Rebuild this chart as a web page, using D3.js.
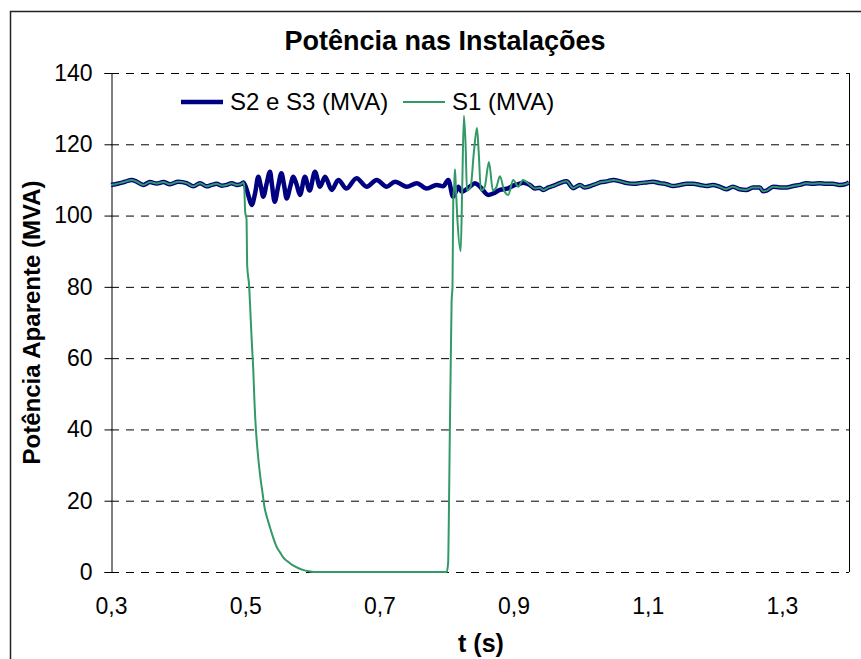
<!DOCTYPE html>
<html lang="pt">
<head>
    <meta charset="UTF-8">
    <title>Potência nas Instalações</title>
    <script src="https://d3js.org/d3.v7.min.js"></script>
    <style>
        body { margin: 0; background: #fff; }
        text { font-family: "Liberation Sans", Arial, sans-serif; fill: #000; }
    </style>
</head>
<body>
    <svg id="chart"></svg>

    <script>
        // S2 e S3 (MVA): tempo (s) e potência aparente
        const s2Time = [
            0.300, 0.3065, 0.3134, 0.3209, 0.3308, 0.3383, 0.3482, 0.3581, 0.3681, 0.378,
            0.3879, 0.4003, 0.4128, 0.4227, 0.4326, 0.4426, 0.450, 0.4575, 0.465, 0.4724,
            0.4799, 0.4873, 0.4935, 0.4972, 0.501, 0.505, 0.5097, 0.515, 0.5195, 0.523,
            0.527, 0.532, 0.537, 0.540, 0.544, 0.549, 0.554, 0.558, 0.5618, 0.567,
            0.5717, 0.577, 0.5817, 0.589, 0.596, 0.604, 0.6115, 0.619, 0.629, 0.6388,
            0.651, 0.666, 0.681, 0.696, 0.711, 0.7233, 0.7407, 0.7556, 0.7705, 0.7854,
            0.795, 0.8027, 0.810, 0.8176, 0.8226, 0.835, 0.8425, 0.850, 0.8623, 0.8697,
            0.8797, 0.892, 0.8995, 0.907, 0.9145, 0.9244, 0.932, 0.939, 0.944, 0.952,
            0.959, 0.969, 0.979, 0.989, 0.999, 1.006, 1.019, 1.031, 1.039, 1.049,
            1.059, 1.069, 1.079, 1.088, 1.098, 1.108, 1.118, 1.128, 1.138, 1.148,
            1.158, 1.168, 1.178, 1.188, 1.197, 1.207, 1.217, 1.227, 1.237, 1.247,
            1.257, 1.267, 1.272, 1.277, 1.287, 1.297, 1.307, 1.317, 1.327, 1.336,
            1.346, 1.356, 1.366, 1.376, 1.386, 1.396, 1.400
        ];
        const s2Value = [
            108.6, 108.8, 109.1, 109.5, 110.0, 109.5, 108.6, 109.4, 109.0, 109.4,
            108.8, 109.5, 109.1, 108.2, 109.1, 108.2, 108.6, 108.9, 108.4, 108.6,
            109.1, 108.6, 108.8, 109.3, 108.0, 105.5, 103.0, 106.5, 110.9, 108.5,
            105.3, 109.0, 112.3, 108.5, 103.9, 108.0, 111.9, 108.5, 104.8, 108.0,
            110.9, 108.5, 105.8, 110.9, 107.0, 112.3, 108.1, 110.9, 107.2, 110.0,
            107.6, 110.5, 108.1, 110.0, 108.1, 109.5, 108.1, 109.1, 107.6, 108.6,
            108.2, 110.0, 105.3, 108.1, 106.7, 108.1, 109.1, 108.1, 105.8, 106.2,
            107.2, 107.6, 108.4, 108.8, 109.2, 108.6, 107.6, 107.8, 107.2, 107.9,
            108.3, 109.1, 109.6, 107.7, 108.6, 107.9, 108.6, 109.4, 109.6, 110.0,
            109.6, 109.1, 108.9, 109.1, 109.3, 109.5, 109.1, 108.8, 108.3, 108.6,
            108.9, 108.9, 108.6, 108.3, 108.6, 108.1, 107.4, 108.1, 107.4, 107.2,
            107.9, 107.9, 106.8, 107.0, 108.1, 107.9, 107.9, 108.3, 108.6, 109.1,
            108.9, 109.1, 108.9, 108.9, 108.6, 108.9, 109.3
        ];

        // S1 (MVA): trecho em que difere de S2/S3 (abertura e religamento)
        const s1Time = [
            0.4985, 0.500, 0.502, 0.503, 0.506, 0.508, 0.510, 0.512, 0.514, 0.516,
            0.518, 0.520, 0.523, 0.526, 0.529, 0.533, 0.537, 0.542, 0.547, 0.552,
            0.557, 0.563, 0.570, 0.578, 0.586, 0.595, 0.602, 0.8003, 0.8025, 0.8035,
            0.805, 0.8065, 0.8077, 0.809, 0.8101, 0.8115, 0.8127, 0.814, 0.816, 0.8212,
            0.8235, 0.826, 0.8285, 0.8306, 0.836, 0.841, 0.8455, 0.848, 0.8514, 0.857,
            0.8633, 0.8693, 0.8745, 0.8797, 0.886, 0.892, 0.8995, 0.907, 0.914
        ];
        const s1Value = [
            108.5, 101, 99, 86, 80, 72, 64, 57, 47, 40,
            35, 31, 26, 22, 18, 15, 12.5, 9.5, 7, 5.5,
            4, 3, 2, 1.2, 0.6, 0.2, 0, 0, 2.5, 14,
            39, 60, 76, 80, 104, 108, 113, 108, 100, 90,
            108, 128, 120, 107, 108, 118, 124.6, 118, 107, 108,
            115, 107, 108, 111, 107, 105.8, 110, 108.1, 110
        ];

        const xTicks = [0.3, 0.5, 0.7, 0.9, 1.1, 1.3];
        const yTicks = [0, 20, 40, 60, 80, 100, 120, 140];

        const s2 = s2Time.map((t, i) => [t, s2Value[i]]);
        const s1 = [
            ...s2.filter(d => d[0] <= 0.4972),
            ...s1Time.map((t, i) => [t, s1Value[i]]),
            ...s2.filter(d => d[0] >= 0.9244)
        ];

        const width = 861;
        const height = 659;
        const plot = { left: 111, right: 849, top: 73, bottom: 572 };

        const ptBR = d3.formatLocale({ decimal: ",", thousands: ".", grouping: [3], currency: ["R$", ""] });

        const svg = d3.select("#chart")
            .attr("width", width)
            .attr("height", height);

        // moldura do gráfico
        svg.append("rect")
            .attr("x", 10.5).attr("y", 11.5)
            .attr("width", width + 20).attr("height", height + 20)
            .attr("fill", "#fff")
            .attr("stroke", "#222")
            .attr("stroke-width", 1.5);

        const x = d3.scaleLinear().domain([0.3, 1.4]).range([plot.left, plot.right]);
        const y = d3.scaleLinear().domain([0, 140]).range([plot.bottom, plot.top]);

        // linhas de grade
        svg.append("g")
            .selectAll("line")
            .data(yTicks)
            .join("line")
            .attr("x1", plot.left).attr("x2", plot.right)
            .attr("y1", d => y(d) + 0.5).attr("y2", d => y(d) + 0.5)
            .attr("stroke", "#000")
            .attr("stroke-dasharray", "8,7");

        // borda direita
        svg.append("line")
            .attr("x1", plot.right + 0.5).attr("x2", plot.right + 0.5)
            .attr("y1", plot.top).attr("y2", plot.bottom)
            .attr("stroke", "#000");

        // eixo y
        const yAxis = svg.append("g")
            .attr("transform", `translate(${plot.left + 0.5},0)`)
            .call(d3.axisLeft(y).tickValues(yTicks).tickSize(7).tickPadding(12));
        yAxis.select(".domain").attr("stroke", "#000");
        yAxis.selectAll("text")
            .style("font-size", "23px")
            .style("font-family", "'Liberation Sans', Arial, sans-serif");

        // eixo x (só rótulos)
        const xAxis = svg.append("g")
            .attr("transform", `translate(0,${plot.bottom})`)
            .call(d3.axisBottom(x).tickValues(xTicks).tickSize(0).tickPadding(26).tickFormat(ptBR.format(".1f")));
        xAxis.select(".domain").remove();
        xAxis.selectAll("text")
            .style("font-size", "23px")
            .style("font-family", "'Liberation Sans', Arial, sans-serif");

        const line = d3.line()
            .curve(d3.curveMonotoneX)
            .x(d => x(d[0]))
            .y(d => y(d[1]));

        svg.append("path")
            .datum(s2)
            .attr("d", line)
            .attr("fill", "none")
            .attr("stroke", "#000080")
            .attr("stroke-width", 4.5)
            .attr("stroke-linejoin", "round");

        svg.append("path")
            .datum(s1)
            .attr("d", line)
            .attr("fill", "none")
            .attr("stroke", "#339966")
            .attr("stroke-width", 2)
            .attr("stroke-linejoin", "round");

        // títulos
        svg.append("text")
            .attr("x", 445).attr("y", 50)
            .attr("text-anchor", "middle")
            .style("font-size", "27px")
            .style("font-weight", "bold")
            .text("Potência nas Instalações");

        svg.append("text")
            .attr("transform", `translate(40,${(plot.top + plot.bottom) / 2}) rotate(-90)`)
            .attr("text-anchor", "middle")
            .style("font-size", "24px")
            .style("font-weight", "bold")
            .text("Potência Aparente (MVA)");

        svg.append("text")
            .attr("x", (plot.left + plot.right) / 2 + 1).attr("y", 652)
            .attr("text-anchor", "middle")
            .style("font-size", "25px")
            .style("font-weight", "bold")
            .text("t (s)");

        // legenda
        const legend = [
            { name: "S2 e S3 (MVA)", color: "#000080", width: 4.5, x: 181 },
            { name: "S1 (MVA)", color: "#339966", width: 2, x: 403 }
        ];
        const lg = svg.append("g").selectAll("g").data(legend).join("g");
        lg.append("line")
            .attr("x1", d => d.x).attr("x2", d => d.x + 42)
            .attr("y1", 102).attr("y2", 102)
            .attr("stroke", d => d.color)
            .attr("stroke-width", d => d.width);
        lg.append("text")
            .attr("x", d => d.x + 49).attr("y", 110)
            .style("font-size", "24px")
            .text(d => d.name);
    </script>
</body>
</html>
